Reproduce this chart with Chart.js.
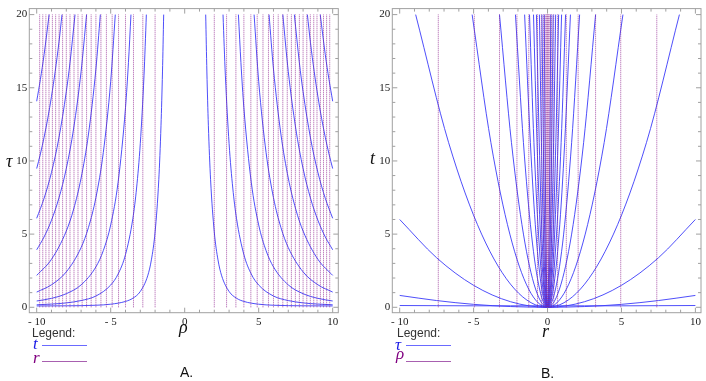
<!DOCTYPE html>
<html>
<head>
<meta charset="utf-8">
<script src="https://cdn.jsdelivr.net/npm/chart.js@4/dist/chart.umd.min.js"></script>
<style>
  body { margin: 0; background: #fff; width: 706px; height: 381px; position: relative; overflow: hidden; }
  canvas { position: absolute; top: 0; }
  .lbl { position: absolute; line-height: 1; white-space: nowrap; }
  .ax { font-family: "Liberation Serif", serif; font-style: italic; font-size: 18px; color: #111; }
  .leg { font-family: "Liberation Sans", sans-serif; font-size: 12px; color: #333; }
  .sym { font-family: "Liberation Serif", serif; font-style: italic; font-size: 17px; }
  .sw { position: absolute; width: 45px; height: 0; border-top: 1px solid; }
  .cap { font-family: "Liberation Sans", sans-serif; font-size: 14px; color: #111; }
</style>
</head>
<body>
<canvas id="chartA" width="350" height="330" style="left:0"></canvas>
<canvas id="chartB" width="346" height="330" style="left:360px"></canvas>

<div class="lbl ax" style="left:6px;top:152px">τ</div>
<div class="lbl ax" style="left:179px;top:318px">ρ</div>
<div class="lbl ax" style="left:370px;top:149px">t</div>
<div class="lbl ax" style="left:542px;top:322px">r</div>

<div class="lbl leg" style="left:32px;top:327px">Legend:</div>
<div class="lbl sym" style="left:33px;top:335px;color:#1a1ae6">t</div>
<div class="sw" style="left:42px;top:345px;border-color:#6a6aff"></div>
<div class="lbl sym" style="left:33px;top:349px;color:#800080">r</div>
<div class="sw" style="left:42px;top:361px;border-color:#a860b0"></div>

<div class="lbl leg" style="left:397px;top:327px">Legend:</div>
<div class="lbl sym" style="left:395px;top:336px;color:#1a1ae6">τ</div>
<div class="sw" style="left:406px;top:345px;border-color:#6a6aff"></div>
<div class="lbl sym" style="left:396px;top:345px;color:#800080">ρ</div>
<div class="sw" style="left:406px;top:361px;border-color:#a860b0"></div>

<div class="lbl cap" style="left:180px;top:365px">A.</div>
<div class="lbl cap" style="left:541px;top:366px">B.</div>

<script>
// axis ticks
const rhoTicks = [-10, -5, 0, 5, 10];
const tauTicks = [0, 5, 10, 15, 20];
const rTicks = [-10, -5, 0, 5, 10];
const tTicks = [0, 5, 10, 15, 20];
const lineSpan = [0, 20];

// panel A: r = const lines (rho positions)
const rLinesRho = [-9.8, -9.59, -9.38, -9.17, -8.94, -8.72, -8.49, -8.25, -8.0, -7.75, -7.48, -7.21,
  -6.93, -6.63, -6.32, -6.0, -5.66, -5.29, -4.9, -4.47, -4.0, -3.46, -2.83, -2.0,
  2.0, 2.83, 3.46, 4.0, 4.47, 4.9, 5.29, 5.66, 6.0, 6.32, 6.63, 6.93,
  7.21, 7.48, 7.75, 8.0, 8.25, 8.49, 8.72, 8.94, 9.17, 9.38, 9.59, 9.8];

// panel A: t = const curves, rho > 0 half
const tCurvesRho = [
  [1.42, 1.5, 1.6, 1.75, 2.0, 2.25, 2.5, 3.0, 3.5, 4.0, 5.0, 6.0, 8.0, 10.0],
  [2.59, 2.75, 3.0, 3.25, 3.5, 4.0, 4.5, 5.0, 6.0, 7.0, 8.0, 9.0, 10.0],
  [3.63, 3.8, 4.0, 4.5, 5.0, 5.5, 6.0, 7.0, 8.0, 9.0, 10.0],
  [4.69, 5.0, 5.5, 6.0, 6.5, 7.0, 8.0, 9.0, 10.0],
  [5.7, 6.0, 6.5, 7.0, 7.5, 8.0, 9.0, 10.0],
  [6.63, 7.0, 7.5, 8.0, 8.5, 9.0, 9.5, 10.0],
  [7.41, 7.75, 8.0, 8.5, 9.0, 9.5, 10.0],
  [8.29, 8.5, 8.75, 9.0, 9.25, 9.5, 9.75, 10.0],
  [9.16, 9.5, 9.75, 10.0]
];
const tCurvesTau = [
  [20, 16.08, 12.44, 8.72, 5.14, 3.24, 2.15, 1.08, 0.62, 0.40, 0.21, 0.14, 0.10, 0.09],
  [20, 15.82, 11.19, 8.15, 6.08, 3.60, 2.27, 1.52, 0.77, 0.46, 0.30, 0.22, 0.17],
  [20, 16.72, 13.63, 8.54, 5.63, 3.87, 2.76, 1.53, 0.93, 0.61, 0.43],
  [20, 15.44, 10.57, 7.49, 5.46, 4.08, 2.42, 1.54, 1.04],
  [20, 16.28, 11.84, 8.83, 6.72, 5.21, 3.28, 2.18],
  [20, 16.11, 12.25, 9.48, 7.46, 5.95, 4.81, 3.93],
  [20, 16.71, 14.73, 11.57, 9.22, 7.45, 6.08],
  [20, 18.08, 16.12, 14.41, 12.92, 11.62, 10.48, 9.48],
  [20, 17.27, 15.57, 14.08]
];
// panel A: t = const curves, rho < 0 half
const tCurvesRhoL = [
  [-10, -8, -6, -5, -4, -3.5, -3, -2.5, -2.25, -2, -1.75, -1.6, -1.5, -1.42],
  [-10, -9, -8, -7, -6, -5, -4.5, -4, -3.5, -3.25, -3, -2.75, -2.59],
  [-10, -9, -8, -7, -6, -5.5, -5, -4.5, -4, -3.8, -3.63],
  [-10, -9, -8, -7, -6.5, -6, -5.5, -5, -4.69],
  [-10, -9, -8, -7.5, -7, -6.5, -6, -5.7],
  [-10, -9.5, -9, -8.5, -8, -7.5, -7, -6.63],
  [-10, -9.5, -9, -8.5, -8, -7.75, -7.41],
  [-10, -9.75, -9.5, -9.25, -9, -8.75, -8.5, -8.29],
  [-10, -9.75, -9.5, -9.16]
];
const tCurvesTauL = [
  [0.09, 0.10, 0.14, 0.21, 0.40, 0.62, 1.08, 2.15, 3.24, 5.14, 8.72, 12.44, 16.08, 20],
  [0.17, 0.22, 0.30, 0.46, 0.77, 1.52, 2.27, 3.60, 6.08, 8.15, 11.19, 15.82, 20],
  [0.43, 0.61, 0.93, 1.53, 2.76, 3.87, 5.63, 8.54, 13.63, 16.72, 20],
  [1.04, 1.54, 2.42, 4.08, 5.46, 7.49, 10.57, 15.44, 20],
  [2.18, 3.28, 5.21, 6.72, 8.83, 11.84, 16.28, 20],
  [3.93, 4.81, 5.95, 7.46, 9.48, 12.25, 16.11, 20],
  [6.08, 7.45, 9.22, 11.57, 14.73, 16.71, 20],
  [9.48, 10.48, 11.62, 12.92, 14.41, 16.12, 18.08, 20],
  [14.08, 15.57, 17.27, 20]
];

// panel B: rho = const lines (r positions)
const rhoLinesR = [-7.39, -4.95, -3.25, -2.07, -1.27, -0.68, -0.42, -0.27, -0.17, -0.1, -0.05, 0,
  0.05, 0.1, 0.17, 0.27, 0.42, 0.68, 1.27, 2.07, 3.25, 4.95, 7.39];

// panel B: tau = const curves
const innerT = [20, 11.25, 5, 1.25, 0, 1.25, 5, 11.25, 20];
const tauCurvesR = [
  [-0.22, -0.165, -0.11, -0.055, 0, 0.055, 0.11, 0.165, 0.22],
  [-0.38, -0.285, -0.19, -0.095, 0, 0.095, 0.19, 0.285, 0.38],
  [-0.55, -0.41, -0.28, -0.14, 0, 0.14, 0.28, 0.41, 0.55],
  [-0.75, -0.56, -0.38, -0.19, 0, 0.19, 0.38, 0.56, 0.75],
  [-0.95, -0.71, -0.48, -0.24, 0, 0.24, 0.48, 0.71, 0.95],
  [-1.22, -0.92, -0.61, -0.31, 0, 0.31, 0.61, 0.92, 1.22],
  [-1.55, -1.16, -0.78, -0.39, 0, 0.39, 0.78, 1.16, 1.55],
  [-2.17, -1.63, -1.09, -0.54, 0, 0.54, 1.09, 1.63, 2.17],
  [-3.25, -2.44, -1.63, -0.81, 0, 0.81, 1.63, 2.44, 3.25],
  [-5.1, -3.83, -2.55, -1.28, 0, 1.28, 2.55, 3.83, 5.1],
  [-8.92, -6.69, -4.46, -2.23, 0, 2.23, 4.46, 6.69, 8.92],
  [-10, -7.5, -5, -2.5, 0, 2.5, 5, 7.5, 10],
  [-10, -7.5, -5, -2.5, 0, 2.5, 5, 7.5, 10],
  [-10, -7.5, -5, -2.5, 0, 2.5, 5, 7.5, 10]
];
const tauCurvesT = [
  innerT, innerT, innerT, innerT, innerT, innerT, innerT, innerT, innerT, innerT, innerT,
  [6, 3.38, 1.5, 0.38, 0, 0.38, 1.5, 3.38, 6],
  [0.81, 0.46, 0.2, 0.05, 0, 0.05, 0.2, 0.46, 0.81],
  [0.12, 0.11, 0.1, 0.1, 0.1, 0.1, 0.1, 0.11, 0.12]
];

const blue = 'rgba(60, 60, 250, 0.9)';
const purple = 'rgba(140, 30, 140, 0.75)';

function curve(xs, ys) {
  return {
    data: xs.map((x, i) => ({ x: x, y: ys[i] })),
    showLine: true, pointRadius: 0, borderWidth: 1, borderColor: blue,
    cubicInterpolationMode: 'monotone', fill: false
  };
}
function vline(x) {
  return {
    data: lineSpan.map(y => ({ x: x, y: y })),
    showLine: true, pointRadius: 0, borderWidth: 1, borderColor: purple,
    borderDash: [1, 1], tension: 0, fill: false
  };
}

// Mathematica-like frame with inward ticks on all four sides
const framePlugin = {
  id: 'frame',
  afterDatasetsDraw(chart) {
    const { ctx, chartArea: a, scales: { x, y } } = chart;
    ctx.save();
    ctx.strokeStyle = '#a0a0a0';
    ctx.lineWidth = 1;
    ctx.strokeRect(a.left, a.top, a.right - a.left, a.bottom - a.top);
    ctx.beginPath();
    for (let v = -10; v <= 10; v++) {
      const px = x.getPixelForValue(v), len = v % 5 === 0 ? 5 : 3;
      ctx.moveTo(px, a.bottom); ctx.lineTo(px, a.bottom - len);
      ctx.moveTo(px, a.top); ctx.lineTo(px, a.top + len);
    }
    for (let v = 0; v <= 20; v++) {
      const py = y.getPixelForValue(v), len = v % 5 === 0 ? 5 : 3;
      ctx.moveTo(a.left, py); ctx.lineTo(a.left + len, py);
      ctx.moveTo(a.right, py); ctx.lineTo(a.right - len, py);
    }
    ctx.stroke();
    ctx.restore();
  }
};

function fmt(v) {
  return v < 0 ? '- ' + (-v) : String(v);
}

function makeChart(id, datasets, xTicks, yTicks, yWidth, padRight) {
  return new Chart(document.getElementById(id), {
    type: 'scatter',
    data: { datasets: datasets },
    options: {
      responsive: false,
      animation: false,
      devicePixelRatio: 1,
      layout: { padding: { left: 0, top: 5, right: padRight, bottom: 0 } },
      plugins: { legend: { display: false }, tooltip: { enabled: false } },
      scales: {
        x: {
          type: 'linear', min: -10.5, max: 10.38,
          afterBuildTicks: s => { s.ticks = xTicks.map(v => ({ value: v })); },
          afterFit: s => { s.height = 17.3; },
          ticks: {
            callback: fmt, color: '#222', padding: 3, maxRotation: 0, autoSkip: false,
            font: { family: 'Liberation Serif', size: 11 }
          },
          grid: { display: false, drawTicks: false },
          border: { display: false }
        },
        y: {
          type: 'linear', min: -0.37, max: 20.41,
          afterBuildTicks: s => { s.ticks = yTicks.map(v => ({ value: v })); },
          afterFit: s => { s.width = yWidth; },
          ticks: {
            callback: fmt, color: '#222', padding: 2,
            font: { family: 'Liberation Serif', size: 11 }
          },
          grid: { display: false, drawTicks: false },
          border: { display: false }
        }
      }
    },
    plugins: [framePlugin]
  });
}

const dsA = [];
rLinesRho.forEach(x => dsA.push(vline(x)));
tCurvesRho.forEach((xs, i) => dsA.push(curve(xs, tCurvesTau[i])));
tCurvesRhoL.forEach((xs, i) => dsA.push(curve(xs, tCurvesTauL[i])));

const dsB = [];
rhoLinesR.forEach(x => dsB.push(vline(x)));
tauCurvesR.forEach((xs, i) => dsB.push(curve(xs, tauCurvesT[i])));

makeChart('chartA', dsA, rhoTicks, tauTicks, 29.3, 11.7);
makeChart('chartB', dsB, rTicks, tTicks, 32.3, 5);
</script>
</body>
</html>
